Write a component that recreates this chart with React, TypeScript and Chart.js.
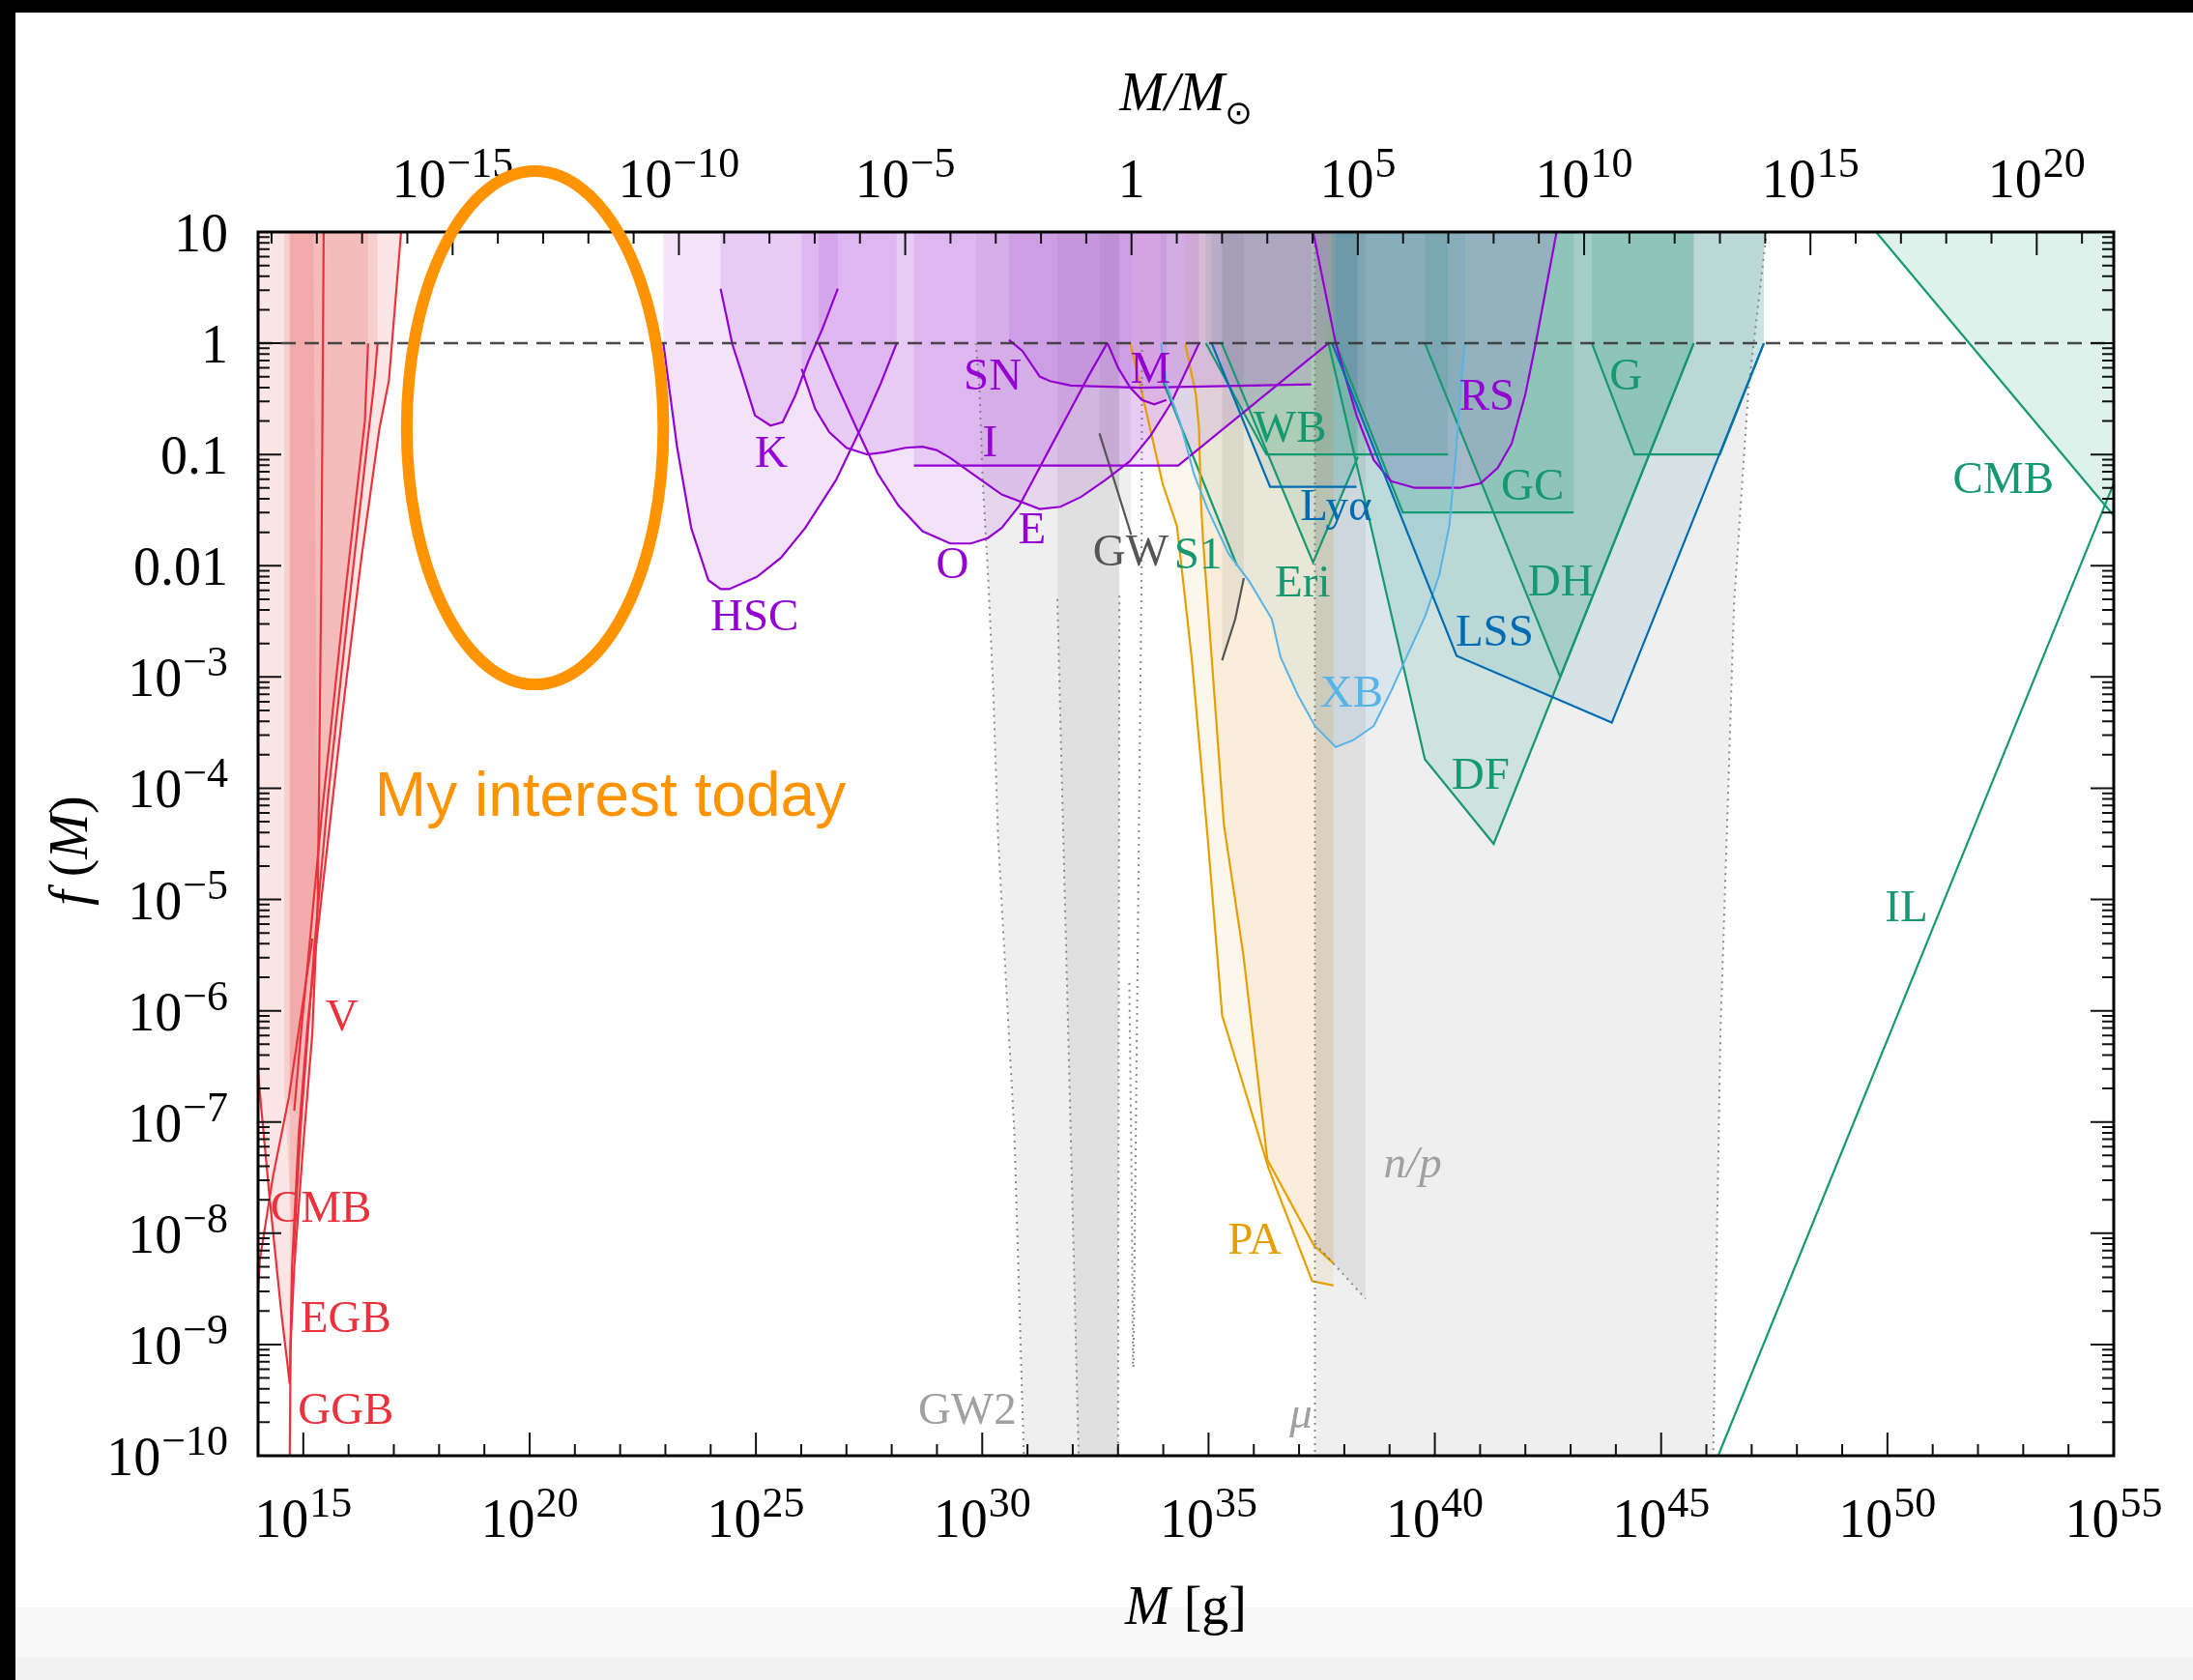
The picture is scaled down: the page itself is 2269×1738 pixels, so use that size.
import React, { useEffect, useRef } from 'react';
import { Chart, registerables } from 'chart.js';

Chart.register(...registerables);

// Every point is [log10(M / g), log10 f(M)].
type Pt = [number, number];

const WIDTH = 2269;
const HEIGHT = 1738;
const M_SUN_G = 1.989e33;

const X_EXP_RANGE: Pt = [14, 55];
const Y_EXP_RANGE: Pt = [-10, 1];

const BOTTOM_TICK_LABELS = [15, 20, 25, 30, 35, 40, 45, 50, 55];
const TOP_TICK_LABELS = [-15, -10, -5, 0, 5, 10, 15, 20];
const LEFT_TICK_LABELS = [1, 0, -1, -2, -3, -4, -5, -6, -7, -8, -9, -10];
const PLAIN_Y_LABELS: Record<string, string> = { '1': '10', '0': '1', '-1': '0.1', '-2': '0.01' };

// ---- Hawking evaporation bounds (red) ----
const EVAP_A: Pt[] = [[17.16, 1], [16.89, -0.34], [16.68, -0.77], [16.29, -1.91], [15.9, -3.2], [15.6, -4.27], [15.3, -5.35], [15.1, -6.1], [14.9, -7.1], [14.75, -8.3], [14.7, -9.35]];
const EVAP_B: Pt[] = [[16.64, 0], [16.57, -0.34], [15.97, -2.49], [15.55, -4.06], [15.25, -5.4], [15.1, -6.2], [14.95, -7.0], [14.78, -8.2]];
const EVAP_C: Pt[] = [[16.43, 0], [16.36, -0.7], [15.9, -2.34], [15.4, -4.27], [15.15, -5.35], [14.95, -6.2], [14.8, -6.9]];
const EVAP_GGB: Pt[] = [[15.45, 1], [15.4, -2.0], [15.32, -5.0], [15.2, -6.2], [15.0, -7.2], [14.8, -8.3], [14.72, -9.0], [14.7, -10]];
const EVAP_CMB_LEFT: Pt[] = [[14.0, -6.55], [14.04, -6.74], [14.26, -7.7], [14.51, -8.7], [14.7, -9.35]];
const EVAP_CMB_RIGHT: Pt[] = [[14.0, -8.5], [14.04, -8.24], [14.33, -7.49], [14.68, -6.78], [15.2, -5.35]];

const EVAP_FILL_A: Pt[] = [[14, 1], ...EVAP_A, ...[...EVAP_CMB_LEFT].reverse()];
const EVAP_FILL_B: Pt[] = [[14.58, 1], [16.64, 1], ...EVAP_B, [14.58, -6.74]];
const EVAP_FILL_C: Pt[] = [[14.7, 1], [16.43, 1], ...EVAP_C, [14.7, -6.74]];
const EVAP_FILL_D: Pt[] = [[14.7, 1], [15.22, 1], ...EVAP_GGB.slice(2)];

// ---- lensing bounds (purple) ----
const HSC: Pt[] = [[22.955, 0], [23.1, -0.45], [23.26, -0.94], [23.57, -1.66], [23.95, -2.13], [24.22, -2.21], [24.41, -2.21], [25.02, -2.1], [25.55, -1.93], [26.09, -1.66], [26.77, -1.23], [27.38, -0.71], [27.76, -0.36], [28.11, 0]];
const KEPLER: Pt[] = [[24.22, 0.49], [24.48, -0.01], [24.71, -0.3], [24.98, -0.65], [25.32, -0.74], [25.59, -0.71], [25.86, -0.48], [26.16, -0.16], [26.47, 0.13], [26.81, 0.49]];
const EROS: Pt[] = [[26.01, -0.23], [26.31, -0.59], [26.62, -0.8], [27.0, -0.94], [27.46, -1.0], [27.84, -0.98], [28.3, -0.94], [28.68, -0.93], [28.99, -0.96], [29.29, -1.03], [29.67, -1.14], [30.43, -1.36], [31.27, -1.49], [31.73, -1.47], [32.19, -1.38], [32.72, -1.23], [33.26, -1.06], [33.72, -0.83], [34.17, -0.54], [34.79, 0]];
const OGLE: Pt[] = [[26.39, 0], [26.77, -0.36], [27.23, -0.77], [27.69, -1.17], [28.15, -1.46], [28.68, -1.69], [29.29, -1.8], [29.75, -1.8], [30.13, -1.75], [30.43, -1.66], [30.82, -1.46], [31.2, -1.17], [31.58, -0.88], [31.96, -0.59], [32.34, -0.3], [32.76, 0]];
const ICARUS: Pt[] = [[28.49, -1.1], [34.33, -1.1], [37.65, 0]];
const SUPERNOVA: Pt[] = [[30.59, 0.03], [30.89, -0.07], [31.27, -0.3], [31.5, -0.34], [31.96, -0.38], [33.49, -0.4], [37.27, -0.37]];
const MILLI: Pt[] = [[32.77, 0], [33.0, -0.22], [33.27, -0.4], [33.53, -0.51], [33.8, -0.55], [34.07, -0.51]];
const RADIO: Pt[] = [[37.31, 1], [37.81, 0], [38.27, -0.65], [38.65, -1.05], [39.03, -1.24], [39.56, -1.3], [40.55, -1.3], [41.01, -1.26], [41.39, -1.12], [41.7, -0.9], [42.0, -0.46], [42.23, 0], [42.69, 1]];

// ---- gravitational-wave and CMB-distortion bounds (grey) ----
const GW2_LEFT: Pt[] = [[29.86, 0], [29.94, -0.42], [30.01, -1.23], [30.13, -2.1], [30.24, -3.08], [30.35, -4.44], [30.71, -7.1], [30.92, -10]];
const GW2_MID: Pt[] = [[31.66, -2.3], [31.9, -6.2], [32.13, -10]];
const GW2_RIGHT: Pt[] = [[33.03, -2.27], [33.0, -10]];
const GW2_FILL_LIGHT: Pt[] = [[29.86, 1], ...GW2_LEFT, ...[...GW2_RIGHT].reverse(), [33.03, 1]];
const GW2_FILL_DARK: Pt[] = [[31.66, 1], ...GW2_MID, ...[...GW2_RIGHT].reverse(), [33.03, 1]];
const GW_EDGE: Pt[] = [[33.53, 0], [33.52, -2.1], [33.34, -9.23]];
const GW_WIGGLE: Pt[] = [[33.25, -5.75], [33.3, -7.5], [33.33, -9.2]];
const GW_MERGER: Pt[] = [[32.59, -0.81], [33.29, -1.72]];
const GW_MERGER_FILL: Pt[] = [[32.59, 1], ...GW_MERGER, [33.29, 1]];
const GW_SHORT: Pt[] = [[35.3, -2.85], [35.59, -2.48], [35.78, -2.11]];
const MU_LEFT: Pt[] = [[37.35, 1], [37.35, -10]];
const MU_RIGHT: Pt[] = [[47.33, 1], [46.93, -0.41], [46.61, -2.35], [46.47, -4.17], [46.31, -6.2], [46.15, -10]];
const MU_FILL: Pt[] = [...MU_LEFT, ...[...MU_RIGHT].reverse()];
const NP_EDGE: Pt[] = [[37.35, -8.09], [38.47, -8.59]];
const NP_FILL: Pt[] = [[37.35, 1], ...NP_EDGE, [38.47, 1]];

// ---- accretion bounds (orange) ----
const PA_A: Pt[] = [[33.27, 0], [33.61, -0.59], [33.99, -1.27], [34.3, -1.64], [34.34, -1.78], [34.63, -2.84], [34.98, -4.44], [35.3, -6.04], [36.33, -7.42], [37.29, -8.43], [37.76, -8.47]];
const PA_B: Pt[] = [[34.48, 0], [34.72, -0.46], [34.79, -0.77], [34.83, -1.4], [34.88, -1.78], [35.34, -4.33], [35.77, -5.5], [36.3, -7.34], [37.33, -8.11], [37.76, -8.27]];

// ---- dynamical bounds (green) and structure bounds (blue) ----
const SEGUE1: Pt[] = [[34.0, -0.35], [35.63, -2.0]];
const WIDE_BIN: Pt[] = [[34.94, 0], [36.28, -1.0], [40.29, -1.0]];
const LYMAN: Pt[] = [[35.07, 0], [36.36, -1.29], [38.27, -1.29]];
const ERIDANUS: Pt[] = [[35.29, 0], [37.31, -1.97], [38.3, -1.02]];
const GLOB_CL: Pt[] = [[37.81, 0], [39.29, -1.52], [43.07, -1.52]];
const DYN_FRIC: Pt[] = [[37.65, 0], [39.78, -3.74], [41.3, -4.5], [45.72, 0]];
const DISK_HEAT: Pt[] = [[39.78, 0], [42.77, -3.0], [45.72, 0]];
const GALAXIES: Pt[] = [[43.47, 0], [44.41, -1.0], [46.3, -1.0], [47.27, 0]];
const LSS: Pt[] = [[37.73, 0], [40.48, -2.81], [43.91, -3.41], [47.27, 0]];
const XRAY_BIN: Pt[] = [[33.95, 0], [34.07, -0.37], [34.37, -0.71], [34.68, -1.18], [34.98, -1.49], [35.44, -1.89], [35.9, -2.14], [36.4, -2.48], [36.59, -2.82], [36.97, -3.16], [37.35, -3.44], [37.81, -3.63], [38.19, -3.57], [38.65, -3.44], [39.03, -3.13], [39.41, -2.79], [39.79, -2.45], [40.1, -2.08], [40.32, -1.64], [40.48, -0.93], [40.59, -0.31], [40.67, 0]];
const CMB_DIPOLE: Pt[] = [[49.75, 1], [55, -1.55]];
const CMB_DIPOLE_FILL: Pt[] = [...CMB_DIPOLE, [55, 1]];
const INCREDULITY: Pt[] = [[46.26, -10], [55, -1.26]];
const UNITY: Pt[] = [[14, 0], [55, 0]];

// ---- colours ----
const RED = 'rgb(235,50,60)';
const PURPLE = 'rgb(148,0,211)';
const GREEN = 'rgb(22,152,112)';
const BLUE = 'rgb(0,108,178)';
const SKY = 'rgb(86,180,233)';
const ORANGE = 'rgb(230,159,0)';
const DOT_GREY = 'rgba(125,125,125,0.9)';
const DARK_GREY = 'rgb(85,85,85)';
const LABEL_GREY = 'rgb(160,160,160)';
const NOTE_ORANGE = '#FF9300';

const RED_FILL = 'rgba(230,70,70,0.14)';
const PURPLE_FILL = 'rgba(170,70,215,0.15)';
const GREY_FILL = 'rgba(0,0,0,0.063)';
const ORANGE_FILL = 'rgba(225,175,70,0.11)';
const GREEN_FILL = 'rgba(20,155,115,0.14)';
const BLUE_FILL = 'rgba(0,114,178,0.10)';
const SKY_FILL = 'rgba(86,180,233,0.12)';

const REGION_LABELS: { text: string; at: Pt; color: string; italic?: boolean }[] = [
  { text: 'V', at: [15.85, -6.07], color: RED },
  { text: 'CMB', at: [15.39, -7.79], color: RED },
  { text: 'EGB', at: [15.94, -8.78], color: RED },
  { text: 'GGB', at: [15.94, -9.61], color: RED },
  { text: 'HSC', at: [24.97, -2.47], color: PURPLE },
  { text: 'K', at: [25.34, -1.0], color: PURPLE },
  { text: 'SN', at: [30.23, -0.31], color: PURPLE },
  { text: 'I', at: [30.17, -0.91], color: PURPLE },
  { text: 'M', at: [33.72, -0.25], color: PURPLE },
  { text: 'O', at: [29.34, -2.0], color: PURPLE },
  { text: 'E', at: [31.1, -1.69], color: PURPLE },
  { text: 'RS', at: [41.15, -0.49], color: PURPLE },
  { text: 'GW', at: [33.28, -1.89], color: DARK_GREY },
  { text: 'S1', at: [34.77, -1.92], color: GREEN },
  { text: 'WB', at: [36.8, -0.78], color: GREEN },
  { text: 'Lyα', at: [37.82, -1.48], color: BLUE },
  { text: 'Eri', at: [37.08, -2.17], color: GREEN },
  { text: 'XB', at: [38.16, -3.16], color: SKY },
  { text: 'GC', at: [42.16, -1.3], color: GREEN },
  { text: 'DH', at: [42.78, -2.16], color: GREEN },
  { text: 'LSS', at: [41.32, -2.61], color: BLUE },
  { text: 'DF', at: [41.01, -3.9], color: GREEN },
  { text: 'G', at: [44.22, -0.31], color: GREEN },
  { text: 'CMB', at: [52.56, -1.24], color: GREEN },
  { text: 'IL', at: [50.42, -5.09], color: GREEN },
  { text: 'PA', at: [36.02, -8.08], color: ORANGE },
  { text: 'n/p', at: [39.51, -7.39], color: LABEL_GREY, italic: true },
  { text: 'μ', at: [37.04, -9.64], color: LABEL_GREY, italic: true },
  { text: 'GW2', at: [29.67, -9.61], color: LABEL_GREY },
];

// highlighted window and its note
const HIGHLIGHT_CENTER: Pt = [20.12, -0.76];
const HIGHLIGHT_RADII: Pt = [2.835, 2.307];
const NOTE_TEXT = 'My interest today';
const NOTE_AT: Pt = [16.58, -4.25];

const SERIF = '"Liberation Serif", "Times New Roman", Times, serif';
const SANS = '"Liberation Sans", Arial, Helvetica, sans-serif';

const toXY = (pts: Pt[]) => pts.map(([lm, lf]) => ({ x: Math.pow(10, lm), y: Math.pow(10, lf) }));
const column = (pts: Pt[]): Pt[] => [[pts[0][0], Y_EXP_RANGE[1]], ...pts, [pts[pts.length - 1][0], Y_EXP_RANGE[1]]];

function areaSet(label: string, pts: Pt[], color: string) {
  return {
    label,
    data: toXY(pts),
    fill: 'shape',
    backgroundColor: color,
    borderColor: 'rgba(0,0,0,0)',
    borderWidth: 0,
    pointRadius: 0,
    tension: 0,
    order: 10,
  };
}

function lineSet(label: string, pts: Pt[], color: string, width = 2.2, dash: number[] = [], order = 5) {
  return {
    label,
    data: toXY(pts),
    fill: false,
    borderColor: color,
    backgroundColor: color,
    borderWidth: width,
    borderDash: dash,
    pointRadius: 0,
    tension: 0,
    order,
  };
}

function buildDatasets() {
  const dotted = [2, 5];
  return [
    // filled regions
    areaSet('evap a', EVAP_FILL_A, RED_FILL),
    areaSet('evap b', EVAP_FILL_B, RED_FILL),
    areaSet('evap c', EVAP_FILL_C, RED_FILL),
    areaSet('evap d', EVAP_FILL_D, RED_FILL),
    areaSet('HSC', column(HSC), PURPLE_FILL),
    areaSet('K', column(KEPLER), PURPLE_FILL),
    areaSet('E', column(EROS), PURPLE_FILL),
    areaSet('O', column(OGLE), PURPLE_FILL),
    areaSet('I', column(ICARUS), PURPLE_FILL),
    areaSet('SN', column(SUPERNOVA), PURPLE_FILL),
    areaSet('M', column(MILLI), PURPLE_FILL),
    areaSet('RS', RADIO, PURPLE_FILL),
    areaSet('GW2 light', GW2_FILL_LIGHT, GREY_FILL),
    areaSet('GW2 dark', GW2_FILL_DARK, GREY_FILL),
    areaSet('GW', GW_MERGER_FILL, GREY_FILL),
    areaSet('GW short', column(GW_SHORT), GREY_FILL),
    areaSet('mu', MU_FILL, GREY_FILL),
    areaSet('n/p', NP_FILL, GREY_FILL),
    areaSet('PA a', column(PA_A), ORANGE_FILL),
    areaSet('PA b', column(PA_B), ORANGE_FILL),
    areaSet('WB', column(WIDE_BIN), GREEN_FILL),
    areaSet('Eri', column(ERIDANUS), GREEN_FILL),
    areaSet('GC', column(GLOB_CL), GREEN_FILL),
    areaSet('DF', column(DYN_FRIC), GREEN_FILL),
    areaSet('DH', column(DISK_HEAT), GREEN_FILL),
    areaSet('G', column(GALAXIES), GREEN_FILL),
    areaSet('CMB dipole', CMB_DIPOLE_FILL, GREEN_FILL),
    areaSet('Lya', column(LYMAN), BLUE_FILL),
    areaSet('LSS', column(LSS), BLUE_FILL),
    areaSet('XB', column(XRAY_BIN), SKY_FILL),

    // boundary curves
    lineSet('unity', UNITY, 'rgba(55,55,55,0.9)', 2.5, [15, 9], 1),
    lineSet('LSS line', LSS, BLUE, 2.2, [], 3),
    lineSet('Lya line', LYMAN, BLUE, 2.2, [], 3),
    lineSet('XB line', XRAY_BIN, SKY, 2.0, [], 4),
    lineSet('evap a line', EVAP_A, RED),
    lineSet('evap b line', EVAP_B, RED),
    lineSet('evap c line', EVAP_C, RED),
    lineSet('GGB line', EVAP_GGB, RED),
    lineSet('evap cmb left', EVAP_CMB_LEFT, RED),
    lineSet('evap cmb right', EVAP_CMB_RIGHT, RED),
    lineSet('HSC line', HSC, PURPLE),
    lineSet('K line', KEPLER, PURPLE),
    lineSet('E line', EROS, PURPLE),
    lineSet('O line', OGLE, PURPLE),
    lineSet('I line', ICARUS, PURPLE),
    lineSet('SN line', SUPERNOVA, PURPLE),
    lineSet('M line', MILLI, PURPLE),
    lineSet('RS line', RADIO, PURPLE),
    lineSet('GW2 left', GW2_LEFT, DOT_GREY, 2, dotted),
    lineSet('GW2 mid', GW2_MID, DOT_GREY, 2, dotted),
    lineSet('GW2 right', GW2_RIGHT, DOT_GREY, 2, dotted),
    lineSet('GW edge', GW_EDGE, DOT_GREY, 2, dotted),
    lineSet('GW wiggle', GW_WIGGLE, DOT_GREY, 2, dotted),
    lineSet('mu left', MU_LEFT, DOT_GREY, 2, dotted),
    lineSet('mu right', MU_RIGHT, DOT_GREY, 2, dotted),
    lineSet('n/p edge', NP_EDGE, DOT_GREY, 2, dotted),
    lineSet('GW merger', GW_MERGER, DARK_GREY),
    lineSet('GW short', GW_SHORT, DARK_GREY),
    lineSet('PA a line', PA_A, ORANGE),
    lineSet('PA b line', PA_B, ORANGE),
    lineSet('S1 line', SEGUE1, GREEN),
    lineSet('WB line', WIDE_BIN, GREEN),
    lineSet('Eri line', ERIDANUS, GREEN),
    lineSet('GC line', GLOB_CL, GREEN),
    lineSet('DF line', DYN_FRIC, GREEN),
    lineSet('DH line', DISK_HEAT, GREEN),
    lineSet('G line', GALAXIES, GREEN),
    lineSet('CMB dipole line', CMB_DIPOLE, GREEN),
    lineSet('IL line', INCREDULITY, GREEN),
  ];
}

const BASE_PX = 56;
const EXP_PX = 44;
const LABEL_PX = 47;

function expText(e: number) {
  return e < 0 ? '\u2212' + String(-e) : String(e);
}

// "10" with a raised exponent; align is relative to x
function drawPower(ctx: CanvasRenderingContext2D, e: number, x: number, baseline: number, align: 'center' | 'right') {
  const sup = expText(e);
  ctx.font = `${BASE_PX}px ${SERIF}`;
  const w1 = ctx.measureText('10').width;
  ctx.font = `${EXP_PX}px ${SERIF}`;
  const w2 = ctx.measureText(sup).width;
  const total = w1 + 1 + w2;
  const left = align === 'center' ? x - total / 2 : x - total;
  ctx.textAlign = 'left';
  ctx.textBaseline = 'alphabetic';
  ctx.font = `${BASE_PX}px ${SERIF}`;
  ctx.fillText('10', left, baseline);
  ctx.font = `${EXP_PX}px ${SERIF}`;
  ctx.fillText(sup, left + w1 + 1, baseline - 21);
}

function drawPlain(ctx: CanvasRenderingContext2D, text: string, x: number, baseline: number, align: 'center' | 'right') {
  ctx.font = `${BASE_PX}px ${SERIF}`;
  ctx.textAlign = align;
  ctx.textBaseline = 'alphabetic';
  ctx.fillText(text, x, baseline);
}

// draws a run of [text, font, dy] pieces centred on x
function drawRun(ctx: CanvasRenderingContext2D, parts: [string, string, number][], cx: number, baseline: number) {
  let total = 0;
  for (const [t, f] of parts) {
    ctx.font = f;
    total += ctx.measureText(t).width;
  }
  let x = cx - total / 2;
  ctx.textAlign = 'left';
  ctx.textBaseline = 'alphabetic';
  for (const [t, f, dy] of parts) {
    ctx.font = f;
    ctx.fillText(t, x, baseline + dy);
    x += ctx.measureText(t).width;
  }
}

const overlayPlugin = {
  id: 'pbhOverlay',
  afterDatasetsDraw(chart: any) {
    const ctx: CanvasRenderingContext2D = chart.ctx;
    const xs = chart.scales.x;
    const ys = chart.scales.y;
    ctx.save();
    ctx.textAlign = 'center';
    ctx.textBaseline = 'middle';
    for (const l of REGION_LABELS) {
      ctx.font = `${l.italic ? 'italic ' : ''}${LABEL_PX}px ${SERIF}`;
      ctx.fillStyle = l.color;
      ctx.fillText(l.text, xs.getPixelForValue(Math.pow(10, l.at[0])), ys.getPixelForValue(Math.pow(10, l.at[1])));
    }
    ctx.restore();
  },
  afterDraw(chart: any) {
    const ctx: CanvasRenderingContext2D = chart.ctx;
    const a = chart.chartArea;
    const xs = chart.scales.x;
    const ys = chart.scales.y;
    const px = (e: number) => xs.getPixelForValue(Math.pow(10, e));
    const py = (e: number) => ys.getPixelForValue(Math.pow(10, e));
    const sunExp = Math.log10(M_SUN_G);

    ctx.save();
    // inward tick marks on all four sides
    ctx.strokeStyle = '#111';
    ctx.lineWidth = 2;
    ctx.beginPath();
    for (let k = X_EXP_RANGE[0]; k <= X_EXP_RANGE[1]; k++) {
      const x = px(k);
      const len = k % 5 === 0 ? 24 : 12;
      ctx.moveTo(x, a.bottom);
      ctx.lineTo(x, a.bottom - len);
    }
    for (let j = Math.ceil(X_EXP_RANGE[0] - sunExp); j <= Math.floor(X_EXP_RANGE[1] - sunExp); j++) {
      const x = px(j + sunExp);
      const len = j % 5 === 0 ? 24 : 12;
      ctx.moveTo(x, a.top);
      ctx.lineTo(x, a.top + len);
    }
    for (let k = Y_EXP_RANGE[0]; k <= Y_EXP_RANGE[1]; k++) {
      const y = py(k);
      ctx.moveTo(a.left, y);
      ctx.lineTo(a.left + 24, y);
      ctx.moveTo(a.right, y);
      ctx.lineTo(a.right - 24, y);
      if (k < Y_EXP_RANGE[1]) {
        for (let m = 2; m <= 9; m++) {
          const ym = ys.getPixelForValue(m * Math.pow(10, k));
          ctx.moveTo(a.left, ym);
          ctx.lineTo(a.left + 12, ym);
          ctx.moveTo(a.right, ym);
          ctx.lineTo(a.right - 12, ym);
        }
      }
    }
    ctx.stroke();

    // frame
    ctx.lineWidth = 3;
    ctx.strokeStyle = '#000';
    ctx.strokeRect(a.left, a.top, a.right - a.left, a.bottom - a.top);

    // tick labels
    ctx.fillStyle = '#000';
    for (const e of BOTTOM_TICK_LABELS) drawPower(ctx, e, px(e), 1590, 'center');
    for (const e of TOP_TICK_LABELS) {
      const x = px(e + sunExp);
      if (e === 0) drawPlain(ctx, '1', x, 204, 'center');
      else drawPower(ctx, e, x, 204, 'center');
    }
    for (const e of LEFT_TICK_LABELS) {
      const y = py(e) + 20;
      const plain = PLAIN_Y_LABELS[String(e)];
      if (plain) drawPlain(ctx, plain, 236, y, 'right');
      else drawPower(ctx, e, 236, y, 'right');
    }

    // axis titles
    const cx = (a.left + a.right) / 2;
    drawRun(ctx, [
      ['M/M', `italic ${BASE_PX}px ${SERIF}`, 0],
      ['\u2299', `34px "DejaVu Sans", ${SERIF}`, 14],
    ], cx, 114);
    drawRun(ctx, [
      ['M', `italic ${BASE_PX}px ${SERIF}`, 0],
      [' [g]', `${BASE_PX}px ${SERIF}`, 0],
    ], cx, 1680);
    ctx.save();
    ctx.translate(90, 880);
    ctx.rotate(-Math.PI / 2);
    drawRun(ctx, [
      ['f', `italic ${BASE_PX}px ${SERIF}`, 0],
      [' (', `${BASE_PX}px ${SERIF}`, 0],
      ['M', `italic ${BASE_PX}px ${SERIF}`, 0],
      [')', `${BASE_PX}px ${SERIF}`, 0],
    ], 0, 0);
    ctx.restore();

    // highlighted mass window and note
    const ecx = px(HIGHLIGHT_CENTER[0]);
    const ecy = py(HIGHLIGHT_CENTER[1]);
    const rx = px(HIGHLIGHT_CENTER[0] + HIGHLIGHT_RADII[0]) - ecx;
    const ry = py(HIGHLIGHT_CENTER[1] - HIGHLIGHT_RADII[1]) - ecy;
    ctx.beginPath();
    ctx.ellipse(ecx, ecy, Math.abs(rx), Math.abs(ry), 0, 0, Math.PI * 2);
    ctx.lineWidth = 12;
    ctx.strokeStyle = NOTE_ORANGE;
    ctx.stroke();
    ctx.font = `64px ${SANS}`;
    ctx.fillStyle = NOTE_ORANGE;
    ctx.textAlign = 'left';
    ctx.textBaseline = 'alphabetic';
    ctx.fillText(NOTE_TEXT, px(NOTE_AT[0]), py(NOTE_AT[1]));
    ctx.restore();
  },
};

export default function App() {
  const canvasRef = useRef<HTMLCanvasElement | null>(null);

  useEffect(() => {
    const canvas = canvasRef.current;
    if (!canvas) return;
    const chart = new Chart(canvas, {
      type: 'line',
      data: { datasets: buildDatasets() as any },
      options: {
        responsive: false,
        animation: false,
        devicePixelRatio: 1,
        events: [],
        layout: { padding: { left: 0, right: 82, top: 240, bottom: 0 } },
        elements: { point: { radius: 0 }, line: { tension: 0 } },
        plugins: { legend: { display: false }, tooltip: { enabled: false } },
        scales: {
          x: {
            type: 'logarithmic',
            position: 'bottom',
            min: Math.pow(10, X_EXP_RANGE[0]),
            max: Math.pow(10, X_EXP_RANGE[1]),
            ticks: { display: false },
            grid: { display: false },
            border: { display: false },
            afterFit: (s: any) => { s.height = 232; },
          },
          y: {
            type: 'logarithmic',
            position: 'left',
            min: Math.pow(10, Y_EXP_RANGE[0]),
            max: Math.pow(10, Y_EXP_RANGE[1]),
            ticks: { display: false },
            grid: { display: false },
            border: { display: false },
            afterFit: (s: any) => { s.width = 267; },
          },
        },
      } as any,
      plugins: [overlayPlugin],
    });
    return () => chart.destroy();
  }, []);

  return (
    <div style={{ position: 'absolute', left: 0, top: 0, width: WIDTH, height: HEIGHT, background: '#ffffff', overflow: 'hidden' }}>
      <div style={{ position: 'absolute', left: 0, top: 1663, width: WIDTH, height: 51, background: '#f8f8f8' }} />
      <div style={{ position: 'absolute', left: 0, top: 1714, width: WIDTH, height: 24, background: '#f2f2f2' }} />
      <canvas ref={canvasRef} width={WIDTH} height={HEIGHT} style={{ position: 'absolute', left: 0, top: 0, width: WIDTH, height: HEIGHT }} />
      <div style={{ position: 'absolute', left: 0, top: 0, width: WIDTH, height: 13, background: '#000' }} />
      <div style={{ position: 'absolute', left: 0, top: 0, width: 16, height: HEIGHT, background: '#000' }} />
    </div>
  );
}
